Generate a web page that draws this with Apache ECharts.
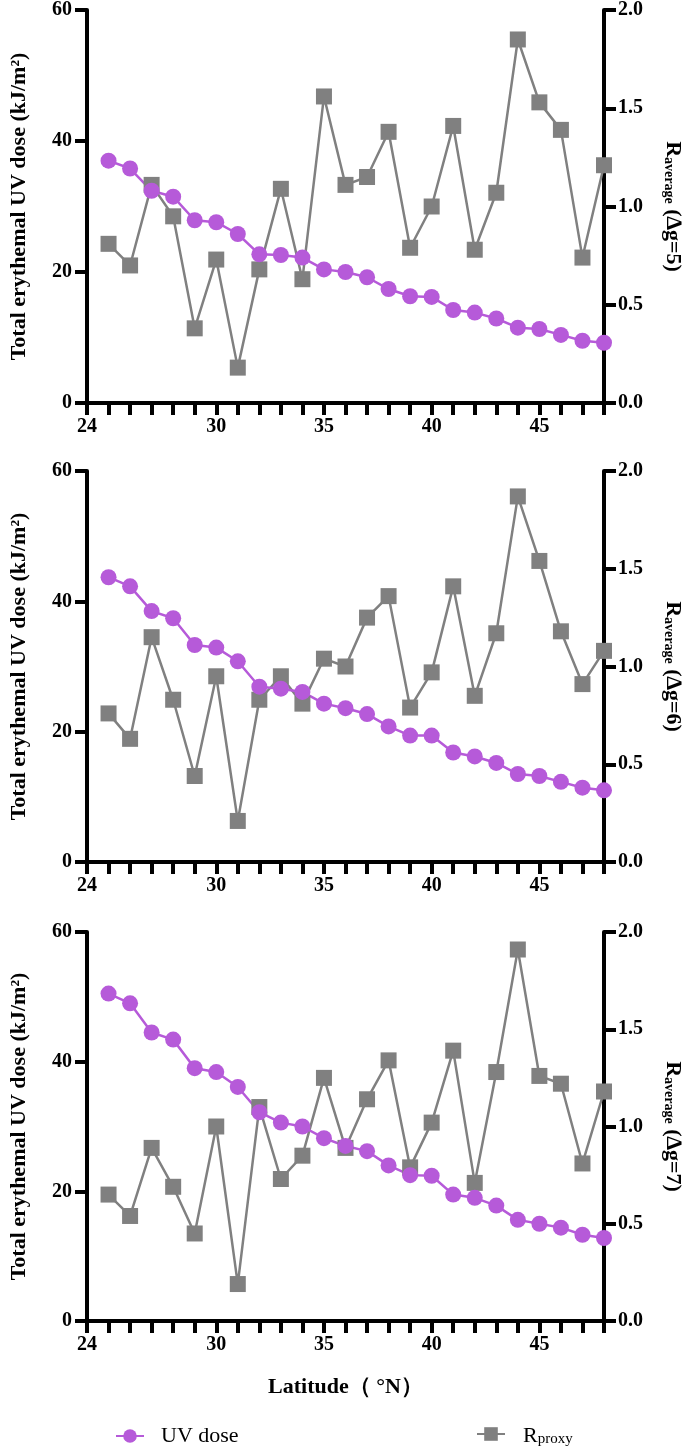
<!DOCTYPE html>
<html><head><meta charset="utf-8">
<script src="https://cdn.jsdelivr.net/npm/echarts@6/dist/echarts.min.js"></script>
<style>html,body{margin:0;padding:0;background:#fff}#c{width:692px;height:1452px}</style>
</head><body><div id="c"></div>
<script>
// ---- data ----
const latitudes = [25,26,27,28,29,30,31,32,33,34,35,36,37,38,39,40,41,42,43,44,45,46,47,48];
const xTickLabels = [24,30,35,40,45];
const deltaG = [5,6,7];

const uvDose5 = [37.0,35.8,32.4,31.5,27.9,27.6,25.8,22.7,22.6,22.2,20.4,20.0,19.2,17.4,16.3,16.2,14.2,13.8,12.9,11.5,11.3,10.4,9.5,9.2];
const rAvg5   = [0.81,0.70,1.11,0.95,0.38,0.73,0.18,0.68,1.09,0.63,1.56,1.11,1.15,1.38,0.79,1.00,1.41,0.78,1.07,1.85,1.53,1.39,0.74,1.21];

const uvDose6 = [43.7,42.3,38.5,37.4,33.3,32.9,30.8,26.9,26.6,26.1,24.3,23.6,22.7,20.8,19.4,19.4,16.8,16.2,15.2,13.5,13.2,12.3,11.4,11.0];
const rAvg6   = [0.76,0.63,1.15,0.83,0.44,0.95,0.21,0.83,0.95,0.81,1.04,1.00,1.25,1.36,0.79,0.97,1.41,0.85,1.17,1.87,1.54,1.18,0.91,1.08];

const uvDose7 = [50.5,49.0,44.5,43.4,39.0,38.4,36.1,32.2,30.6,30.0,28.2,27.0,26.2,24.0,22.5,22.4,19.5,19.0,17.8,15.6,15.0,14.4,13.3,12.8];
const rAvg7   = [0.65,0.54,0.89,0.69,0.45,1.00,0.19,1.10,0.73,0.85,1.25,0.89,1.14,1.34,0.79,1.02,1.39,0.71,1.28,1.91,1.26,1.22,0.81,1.18];

const uvSets = [uvDose5, uvDose6, uvDose7];
const rSets = [rAvg5, rAvg6, rAvg7];

// ---- styling ----
const FONT = 'Liberation Serif';
const PURPLE = '#B65AD9';
const GRAY = '#808080';
const grids = [
  {left: 81, width: 524, top: 9, height: 394},
  {left: 81, width: 524, top: 471, height: 391},
  {left: 81, width: 524, top: 932, height: 389}
];

const xAxes = [], yAxes = [], series = [];
grids.forEach((g, i) => {
  xAxes.push({
    type: 'value', gridIndex: i, min: 24, max: 48, interval: 1,
    axisLine: {show: true, lineStyle: {color: '#000', width: 4}},
    axisTick: {show: true, length: 12, lineStyle: {color: '#000', width: 4}},
    splitLine: {show: false},
    axisLabel: {margin: 14, color: '#000', fontFamily: FONT, fontWeight: 'bold', fontSize: 20,
      formatter: v => xTickLabels.includes(v) ? String(v) : ''},
    name: i === 2 ? 'Latitude（ °N）' : '',
    nameLocation: 'middle', nameGap: 55,
    nameTextStyle: {color: '#000', fontFamily: FONT, fontWeight: 'bold', fontSize: 22}
  });
  yAxes.push({
    type: 'value', gridIndex: i, position: 'left', min: 0, max: 60, interval: 20,
    axisLine: {show: true, lineStyle: {color: '#000', width: 4}},
    axisTick: {show: true, length: 12, lineStyle: {color: '#000', width: 4}},
    splitLine: {show: false},
    axisLabel: {margin: 15, color: '#000', fontFamily: FONT, fontWeight: 'bold', fontSize: 20},
    name: 'Total erythemal UV dose (kJ/m²)', nameLocation: 'middle', nameRotate: 90, nameGap: 57,
    nameTextStyle: {color: '#000', fontFamily: FONT, fontWeight: 'bold', fontSize: 22}
  });
  yAxes.push({
    type: 'value', gridIndex: i, position: 'right', min: 0, max: 2, interval: 0.5,
    axisLine: {show: true, lineStyle: {color: '#000', width: 4}},
    axisTick: {show: true, length: 12, lineStyle: {color: '#000', width: 4}},
    splitLine: {show: false},
    axisLabel: {margin: 14, color: '#000', fontFamily: FONT, fontWeight: 'bold', fontSize: 20,
      formatter: v => v.toFixed(1)},
    name: '{m|R}{s|average}{m| (∆g=' + deltaG[i] + ')}', nameLocation: 'middle', nameRotate: -90, nameGap: 58,
    nameTextStyle: {color: '#000', fontFamily: FONT, fontWeight: 'bold', fontSize: 22,
      rich: {
        m: {fontFamily: FONT, fontWeight: 'bold', fontSize: 22, lineHeight: 26, color: '#000', verticalAlign: 'bottom'},
        s: {fontFamily: FONT, fontWeight: 'bold', fontSize: 14, lineHeight: 11, color: '#000', verticalAlign: 'bottom'}
      }}
  });
  series.push({
    name: 'Rproxy', type: 'line', xAxisIndex: i, yAxisIndex: 2 * i + 1,
    data: latitudes.map((x, k) => [x, rSets[i][k]]),
    symbol: 'rect', symbolSize: 16, showSymbol: true,
    lineStyle: {color: GRAY, width: 2.5}, itemStyle: {color: GRAY},
    animation: false
  });
  series.push({
    name: 'UV dose', type: 'line', xAxisIndex: i, yAxisIndex: 2 * i,
    data: latitudes.map((x, k) => [x, uvSets[i][k]]),
    symbol: 'circle', symbolSize: 16, showSymbol: true,
    lineStyle: {color: PURPLE, width: 2.5}, itemStyle: {color: PURPLE},
    animation: false
  });
});

const chart = echarts.init(document.getElementById('c'), null, {renderer: 'canvas'});
chart.setOption({
  backgroundColor: '#fff',
  animation: false,
  grid: grids,
  xAxis: xAxes,
  yAxis: yAxes,
  series: series,
  legend: [
    {data: ['UV dose'], left: 110, top: 1420, itemWidth: 28, itemHeight: 17,
     selectedMode: false,
     textStyle: {color: '#000', fontFamily: FONT, fontSize: 22, padding: [0, 0, 0, 12]}},
    {data: ['Rproxy'], left: 471, top: 1420, itemWidth: 28, itemHeight: 17,
     selectedMode: false,
     formatter: () => '{m|R}{s|proxy}',
     textStyle: {color: '#000', fontFamily: FONT, fontSize: 22, padding: [0, 0, 0, 13],
       rich: {
         m: {fontFamily: FONT, fontSize: 22, lineHeight: 26, color: '#000', verticalAlign: 'bottom'},
         s: {fontFamily: FONT, fontSize: 15, lineHeight: 11, color: '#000', verticalAlign: 'bottom'}
       }}}
  ]
});
</script>
</body></html>
